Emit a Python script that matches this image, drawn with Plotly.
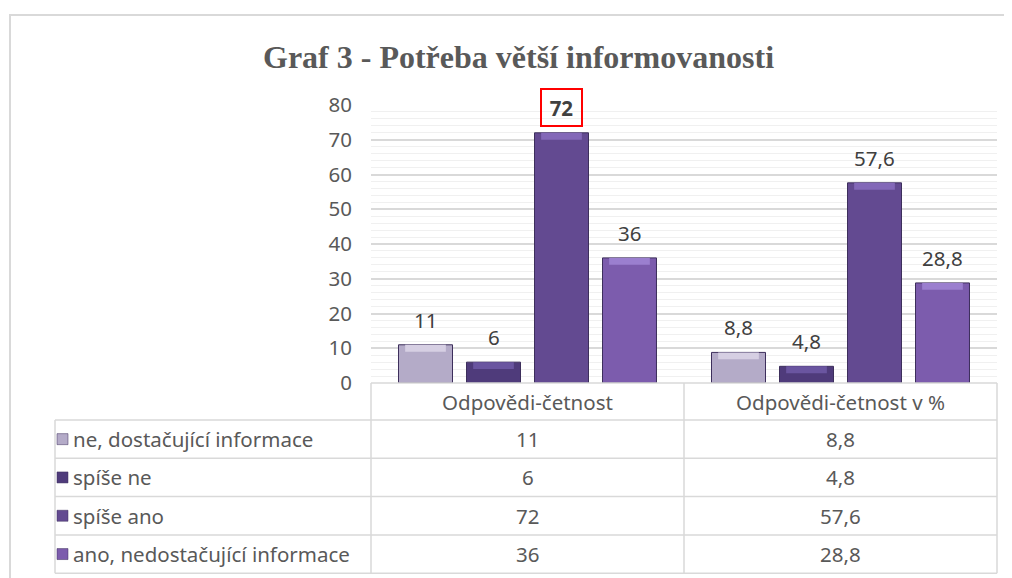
import plotly.graph_objects as go

# data
categories = ['Odpovědi-četnost', 'Odpovědi-četnost v %']
series_names = ['ne, dostačující informace', 'spíše ne', 'spíše ano', 'ano, nedostačující informace']
cetnost = [11, 6, 72, 36]
procenta = [8.8, 4.8, 57.6, 28.8]
y_ticks = [0, 10, 20, 30, 40, 50, 60, 70, 80]

colors = ['#b4abc8', '#4f3b7b', '#634a91', '#7c5cad']
bevel_colors = ['#d6cfe3', '#6a55a0', '#8368b8', '#9b7fcf']
W, H = 1012, 578
OFF = 8  # page body margin
TXT = '#595959'
GRID = '#d9d9d9'
FONT = 'Noto Sans'
FS = 20.5
BEVEL = 2.0  # height of the lighter top face, in axis units


def fmt(v):
    return f'{v:g}'.replace('.', ',')


def px(x):
    return (x - OFF) / W


def py(y):
    return 1 - (y - OFF) / H


# plot area in screen pixels
plot_l, plot_r, plot_t, plot_b = 371, 997, 105, 383
bargap = 0.131
n = len(series_names)

fig = go.Figure()
for i, name in enumerate(series_names):
    vals = [cetnost[i], procenta[i]]
    fig.add_trace(go.Bar(
        x=categories,
        y=vals,
        name=name,
        offsetgroup=str(i),
        marker=dict(color=colors[i], line=dict(color='#3d2f5c', width=1)),
        hoverinfo='none',
    ))
    # lighter top face to hint at the bevelled look
    fig.add_trace(go.Bar(
        x=categories,
        y=[BEVEL] * len(vals),
        base=[v - BEVEL for v in vals],
        offsetgroup=str(i),
        width=0.13,
        marker=dict(color=bevel_colors[i], line=dict(width=0)),
        hoverinfo='none',
    ))

# data labels above the bars
annotations = []
for i in range(n):
    for j, vals in enumerate([cetnost, procenta]):
        v = vals[i]
        xpos = j + (i - (n - 1) / 2) * (1 - bargap) / n
        highlight = (j == 0 and v == max(cetnost))
        a = dict(
            x=xpos, y=v, xref='x', yref='y',
            text=f'<b>{fmt(v)}</b>' if highlight else fmt(v),
            showarrow=False, xanchor='center', yanchor='middle', yshift=25,
            font=dict(family=FONT, size=FS, color='#404040'),
        )
        if highlight:
            a.update(bordercolor='#ff0000', borderwidth=2, borderpad=0, width=39, height=35)
        annotations.append(a)

# title
annotations.append(dict(
    x=px(519), y=py(57), xref='paper', yref='paper', showarrow=False,
    xanchor='center', yanchor='middle',
    text='<b>Graf 3 - Potřeba větší informovanosti</b>',
    font=dict(family='Liberation Serif', size=32, color=TXT),
))

# data table below the chart
tab_l = 55
header_b = 420
row_h = 38.3
shapes = []
line = dict(color=GRID, width=1.5)
row_tops = [header_b + k * row_h for k in range(n + 1)]
for yk in row_tops:
    shapes.append(dict(type='line', xref='paper', yref='paper', x0=px(tab_l), x1=px(plot_r),
                       y0=py(yk), y1=py(yk), line=line))
shapes.append(dict(type='line', xref='paper', yref='paper', x0=px(plot_l), x1=px(plot_r),
                   y0=py(plot_b), y1=py(plot_b), line=line))
shapes.append(dict(type='line', xref='paper', yref='paper', x0=px(tab_l), x1=px(tab_l),
                   y0=py(header_b), y1=py(row_tops[-1]), line=line))
for xk in [plot_l, (plot_l + plot_r) / 2, plot_r]:
    shapes.append(dict(type='line', xref='paper', yref='paper', x0=px(xk), x1=px(xk),
                       y0=py(plot_b), y1=py(row_tops[-1]), line=line))

for i, name in enumerate(series_names):
    yc = header_b + (i + 0.5) * row_h
    shapes.append(dict(type='rect', xref='paper', yref='paper',
                       x0=px(57), x1=px(68), y0=py(yc - 5.5), y1=py(yc + 5.5),
                       fillcolor=colors[i], line=dict(color='#3d2f5c', width=0.5)))
    annotations.append(dict(
        x=px(71), y=py(yc), xref='paper', yref='paper', xanchor='left', yanchor='middle',
        text=name, showarrow=False, font=dict(family=FONT, size=FS, color=TXT),
    ))
    for j, vals in enumerate([cetnost, procenta]):
        annotations.append(dict(
            x=j, y=py(yc), xref='x', yref='paper', xanchor='center', yanchor='middle',
            text=fmt(vals[i]), showarrow=False,
            font=dict(family=FONT, size=FS, color=TXT),
        ))

# chart border
shapes.append(dict(type='rect', xref='paper', yref='paper', x0=px(10), x1=1.02,
                   y0=-0.02, y1=py(15), line=dict(color=GRID, width=2), layer='below'))

fig.update_layout(
    width=W, height=H,
    margin=dict(l=0, r=0, t=0, b=0),
    paper_bgcolor='white',
    plot_bgcolor='white',
    barmode='group',
    bargap=bargap,
    bargroupgap=0.206,
    showlegend=False,
    separators=',.',
    annotations=annotations,
    shapes=shapes,
    xaxis=dict(
        domain=[px(plot_l), px(plot_r)],
        automargin=False,
        showgrid=False, showline=False, zeroline=False, ticks='',
        tickfont=dict(family=FONT, size=FS, color=TXT),
        ticklabelstandoff=5,
    ),
    yaxis=dict(
        domain=[py(plot_b), py(plot_t)],
        automargin=False,
        range=[0, 80],
        tickvals=y_ticks,
        showgrid=True, gridcolor=GRID, gridwidth=1.5,
        minor=dict(dtick=2, showgrid=True, gridcolor='#f0f0f0', gridwidth=1),
        zeroline=False, showline=False, ticks='',
        tickfont=dict(family=FONT, size=FS, color=TXT),
        ticklabelstandoff=18,
    ),
)

fig.write_html('out.html')
